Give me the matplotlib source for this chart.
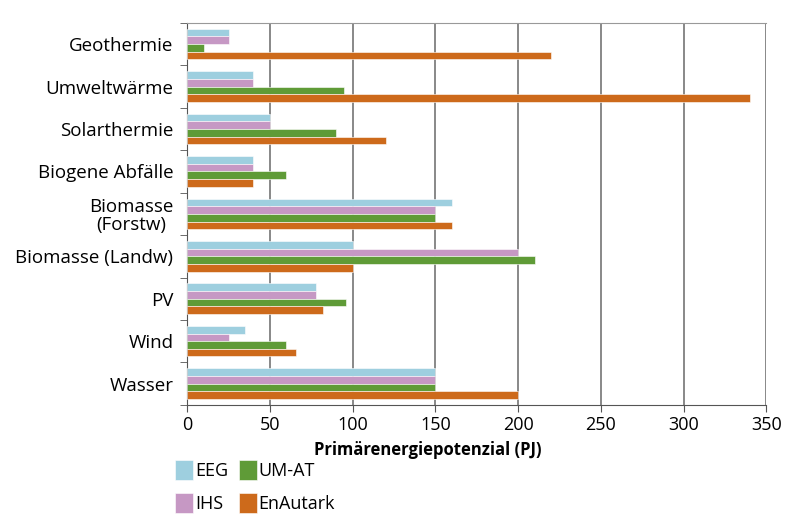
import numpy as np
import matplotlib.pyplot as plt

plt.rcParams['font.family'] = ['Open Sans', 'DejaVu Sans']

categories = ["Geothermie", "Umweltwärme", "Solarthermie", "Biogene Abfälle",
              "Biomasse\n(Forstw)", "Biomasse (Landw)", "PV", "Wind", "Wasser"]
series = ["EEG", "IHS", "UM-AT", "EnAutark"]
eeg = [25, 40, 50, 40, 160, 100, 78, 35, 150]
ihs = [25, 40, 50, 40, 150, 200, 78, 25, 150]
umat = [10, 95, 90, 60, 150, 210, 96, 60, 150]
enautark = [220, 340, 120, 40, 160, 100, 82, 66, 200]
colors = ["#9ecfdf", "#c698c4", "#5f9b37", "#cd6a1b"]
xticks = [0, 50, 100, 150, 200, 250, 300, 350]

values = [eeg, ihs, umat, enautark]

fig = plt.figure(figsize=(8, 5.32), dpi=100)
ax = fig.add_axes([0.234, 0.239, 0.724, 0.718])

y = np.arange(len(categories))
h = 0.18
for i, (name, vals, c) in enumerate(zip(series, values, colors)):
    ax.barh(y - 1.5 * h + i * h, vals, height=h, color=c, label=name,
            edgecolor="white", linewidth=0.4, zorder=3)

ax.set_ylim(len(categories) - 0.5, -0.5)
ax.set_xlim(0, 350)
ax.set_xticks(xticks)
ax.set_yticks(y)
ax.set_yticklabels(categories, fontsize=13.5, multialignment="center", linespacing=1.0)
ax.set_yticks(np.arange(-0.5, len(categories), 1), minor=True)
ax.tick_params(axis="y", which="major", length=0, pad=10)
ax.tick_params(axis="y", which="minor", length=5, direction="out", color="#555555")
ax.tick_params(axis="x", labelsize=13, length=5, direction="out", color="#555555", pad=3)

ax.grid(axis="x", color="#7f7f7f", linewidth=1.3, zorder=0)
ax.spines["top"].set_color("#999999")
ax.spines["right"].set_visible(False)
ax.spines["left"].set_color("#555555")
ax.spines["bottom"].set_color("#555555")

# label sits left of the axis centre in the original
ax.set_xlabel("Primärenergiepotenzial (PJ)", fontsize=12, fontweight="bold")
ax.xaxis.set_label_coords(0.416, -0.095)

fig.legend(loc="upper left", bbox_to_anchor=(0.21, 0.148), ncol=2, frameon=False,
           fontsize=13, handlelength=1.0, handleheight=1.3, handletextpad=0.12,
           columnspacing=0.55, labelspacing=0.72, borderaxespad=0)

fig.savefig("out.png", dpi=100)
